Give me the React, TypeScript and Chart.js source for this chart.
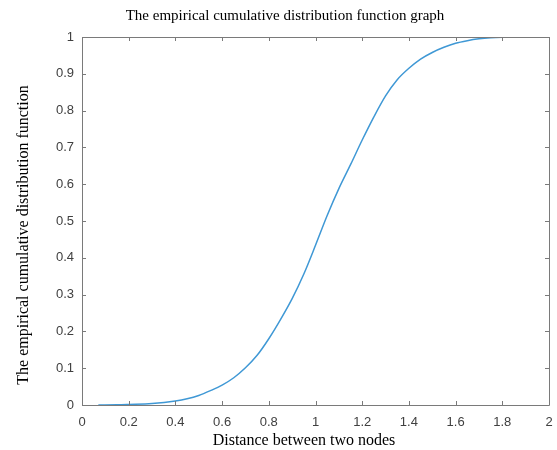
import React, { useEffect, useRef } from "react";
import { Chart, registerables } from "chart.js";

Chart.register(...registerables);

const chartTitle = "The empirical cumulative distribution function graph";
const xAxisTitle = "Distance between two nodes";
const yAxisTitle = "The empirical cumulative distribution function";

const distance = [
  0.07, 0.15, 0.2, 0.3, 0.4, 0.45, 0.5, 0.55, 0.6, 0.65, 0.7, 0.75, 0.8, 0.85,
  0.9, 0.95, 1.0, 1.05, 1.1, 1.15, 1.2, 1.25, 1.3, 1.35, 1.4, 1.45, 1.5, 1.55,
  1.6, 1.65, 1.7, 1.75, 1.8, 1.85, 1.9, 1.95,
];
const ecdf = [
  0, 0.0005, 0.0015, 0.004, 0.011, 0.017, 0.026, 0.039, 0.054, 0.074, 0.101,
  0.135, 0.18, 0.232, 0.289, 0.356, 0.434, 0.515, 0.588, 0.653, 0.72, 0.783,
  0.84, 0.884, 0.915, 0.94, 0.958, 0.972, 0.983, 0.99, 0.995, 0.998, 0.9995,
  1, 1, 1,
];

const xMin = 0;
const xMax = 2;
const xStep = 0.2;
const yMin = 0;
const yMax = 1;
const yStep = 0.1;

const fmt = (v: number) => String(Number(Number(v).toFixed(1)));

const boxPlugin = {
  id: "matlabBox",
  afterDraw(chart: any) {
    const { ctx, chartArea } = chart;
    const { left, right, top, bottom } = chartArea;
    const xs = chart.scales.x;
    const ys = chart.scales.y;
    ctx.save();
    ctx.strokeStyle = "#7a7a7a";
    ctx.lineWidth = 1;
    ctx.beginPath();
    ctx.rect(Math.round(left) + 0.5, Math.round(top) + 0.5, Math.round(right - left), Math.round(bottom - top));
    ctx.stroke();
    const tl = 4;
    ctx.beginPath();
    xs.ticks.forEach((t: any) => {
      const px = Math.round(xs.getPixelForValue(t.value)) + 0.5;
      ctx.moveTo(px, bottom);
      ctx.lineTo(px, bottom - tl);
      ctx.moveTo(px, top);
      ctx.lineTo(px, top + tl);
    });
    ys.ticks.forEach((t: any) => {
      const py = Math.round(ys.getPixelForValue(t.value)) + 0.5;
      ctx.moveTo(left, py);
      ctx.lineTo(left + tl, py);
      ctx.moveTo(right, py);
      ctx.lineTo(right - tl, py);
    });
    ctx.stroke();

    ctx.fillStyle = "#000";
    ctx.textAlign = "center";
    ctx.textBaseline = "middle";
    ctx.font = "15px 'Liberation Serif', serif";
    ctx.fillText(chartTitle, 285, 16);
    ctx.font = "16px 'Liberation Serif', serif";
    ctx.fillText(xAxisTitle, 304, 441);
    ctx.translate(23.5, 235);
    ctx.rotate(-Math.PI / 2);
    ctx.font = "16px 'Liberation Serif', serif";
    ctx.fillText(yAxisTitle, 0, 0);
    ctx.restore();
  },
};

export default function App() {
  const ref = useRef<HTMLCanvasElement | null>(null);
  useEffect(() => {
    if (!ref.current) return;
    const chart = new Chart(ref.current, {
      type: "scatter",
      data: {
        datasets: [
          {
            data: distance.map((d, i) => ({ x: d, y: ecdf[i] })),
            showLine: true,
            borderColor: "#3f98d5",
            backgroundColor: "#3f98d5",
            borderWidth: 1.5,
            pointRadius: 0,
            cubicInterpolationMode: "monotone",
          } as any,
        ],
      },
      options: {
        responsive: false,
        animation: false,
        layout: { padding: { left: 0, top: 37, right: 8, bottom: 0 } },
        plugins: {
          legend: { display: false },
          tooltip: { enabled: false },
          title: { display: false },
        },
        scales: {
          x: {
            type: "linear",
            min: xMin,
            max: xMax,
            afterFit: (s: any) => {
              s.height = 45;
              s.paddingLeft = 0;
              s.paddingRight = 0;
            },
            grid: { display: false, drawTicks: false },
            border: { display: false },
            ticks: {
              stepSize: xStep,
              padding: 10,
              color: "#404040",
              font: { family: "'Liberation Sans', Arial, sans-serif", size: 13 },
              callback: (v: any) => fmt(v),
              maxRotation: 0,
              autoSkip: false,
            },
          },
          y: {
            type: "linear",
            min: yMin,
            max: yMax,
            afterFit: (s: any) => {
              s.width = 82;
              s.paddingTop = 0;
              s.paddingBottom = 0;
            },
            grid: { display: false, drawTicks: false },
            border: { display: false },
            ticks: {
              stepSize: yStep,
              padding: 8,
              color: "#404040",
              font: { family: "'Liberation Sans', Arial, sans-serif", size: 13 },
              callback: (v: any) => fmt(v),
              autoSkip: false,
            },
          },
        },
      },
      plugins: [boxPlugin],
    });
    return () => chart.destroy();
  }, []);
  return (
    <div style={{ position: "absolute", left: 0, top: 0, width: 557, height: 450, background: "#fff" }}>
      <canvas ref={ref} width={557} height={450} />
    </div>
  );
}
